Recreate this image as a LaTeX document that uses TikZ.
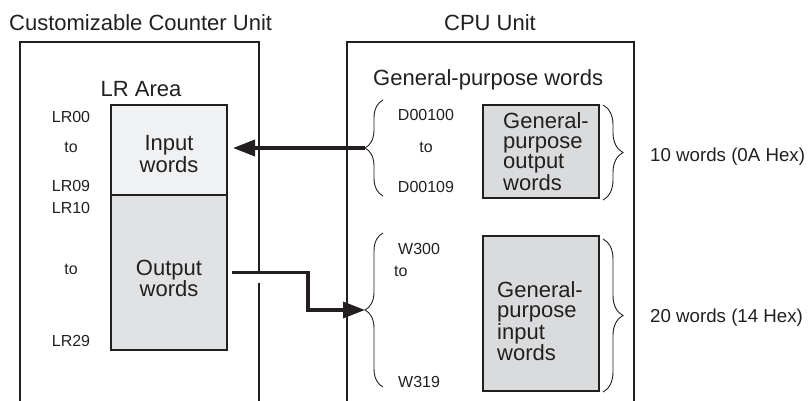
\documentclass[tikz,border=0pt]{standalone}
\usepackage{fontspec}
\setmainfont{Liberation Sans}
\usetikzlibrary{arrows.meta,positioning,calc,decorations.pathreplacing}
\definecolor{inkc}{RGB}{35,31,32}
\definecolor{inlr}{RGB}{240,241,242}
\definecolor{outlr}{RGB}{225,226,228}
\definecolor{gpfill}{RGB}{218,219,221}
\tikzset{
  unitln/.style={line width=1.3pt, inkc},
  wordbox/.style={draw=inkc, line width=1.8pt, inner sep=0pt, outer sep=0pt,
    anchor=north west, minimum width=116pt},
  bigtxt/.style={inkc, inner sep=0pt, font=\fontsize{22}{20}\selectfont},
  midtxt/.style={inkc, inner sep=0pt, font=\fontsize{18.7}{20}\selectfont},
  smalltxt/.style={inkc, inner sep=0pt, font=\fontsize{16}{18}\selectfont},
  xfer/.style={-{Triangle[length=22pt,width=16pt]}, line width=3.5pt, inkc},
  brc/.style={decorate, decoration={brace, amplitude=#1}, line width=0.9pt, inkc},
}

\begin{document}
\begin{tikzpicture}[x=1pt, y=-1pt]
    \useasboundingbox (0,0) rectangle (809,401);
    % unit frames, open at the bottom
    \draw[unitln] (20,401) -- (20,42) -- (259,42) -- (259,271);
    \draw[unitln] (259,283) -- (259,401);
    \draw[unitln] (347,401) -- (347,42) -- (634,42) -- (634,401);
    \node[bigtxt, anchor=base west] (cuttl) at (9,31) {Customizable Counter Unit};
    \node[bigtxt, anchor=base] (cputtl) at (490,31) {CPU Unit};
    % LR area
    \node[bigtxt, anchor=base] (lrttl) at (141,97) {LR Area};
    \node[wordbox, fill=inlr, minimum height=90pt] (inw) at (111,105) {};
    \node[wordbox, fill=outlr, minimum height=155pt, below=0pt of inw] (outw) {};
    \node[bigtxt, align=center] (inwtxt) at ([yshift=-4pt]inw.center) {Input\\words};
    \node[bigtxt, align=center] (outwtxt) at ([yshift=-6pt]outw.center) {Output\\words};
    \node[smalltxt, anchor=base] (lr00) at (71,123) {LR00};
    \node[smalltxt, anchor=base] (lrtoa) at (71,153) {to};
    \node[smalltxt, anchor=base] (lr09) at (71,192) {LR09};
    \node[smalltxt, anchor=base] (lr10) at (71,213) {LR10};
    \node[smalltxt, anchor=base] (lrtob) at (71,274) {to};
    \node[smalltxt, anchor=base] (lr29) at (71,346) {LR29};
    % general-purpose words
    \node[bigtxt, anchor=base west] (gpttl) at (373,86) {General-purpose words};
    \node[wordbox, fill=gpfill, minimum height=93pt] (gpout) at (483,105) {};
    \node[wordbox, fill=gpfill, minimum height=155pt] (gpin) at (483,236) {};
    \node[bigtxt, align=left, anchor=west] (gpouttxt) at ([xshift=20pt]gpout.west)
      {General-\\purpose\\output\\words};
    \node[bigtxt, align=left, anchor=west] (gpintxt) at ([xshift=14pt,yshift=-8pt]gpin.west)
      {General-\\purpose\\input\\words};
    \node[smalltxt, anchor=base] (d100) at (426,121) {D00100};
    \node[smalltxt, anchor=base] (dto) at (426,153) {to};
    \node[smalltxt, anchor=base] (d109) at (426,193) {D00109};
    \node[smalltxt, anchor=base west] (w300) at (398,254) {W300};
    \node[smalltxt, anchor=base west] (wto) at (394,276) {to};
    \node[smalltxt, anchor=base west] (w319) at (398,387) {W319};
    % braces
    \coordinate (dtip) at (365,148);
    \coordinate (wtip) at (365,310);
    \draw[brc=18pt] (383,196) -- (383,100);
    \draw[brc=18pt] (383,387) -- (383,233);
    \draw[brc=20pt] (603,105) -- (603,200);
    \draw[brc=20pt] (603,239) -- (603,392);
    \node[midtxt, anchor=base west] (tenw) at (650,161) {10 words (0A Hex)};
    \node[midtxt, anchor=base west] (twentyw) at (650,322) {20 words (14 Hex)};
    % transfers
    \draw[xfer] (dtip) -- ($(dtip -| inw.east)+(6,0)$);
    \draw[xfer] ([xshift=5pt]outw.east) -- ++(76,0) |- (wtip);
\end{tikzpicture}
\end{document}
